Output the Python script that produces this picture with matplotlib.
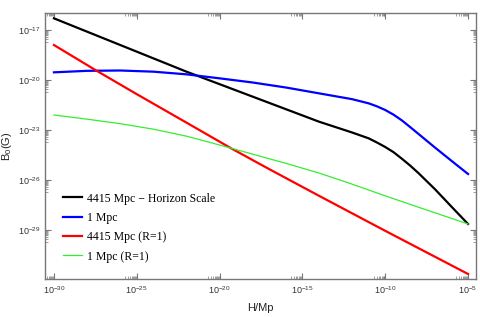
import numpy as np
import matplotlib
matplotlib.use("Agg")
import matplotlib.pyplot as plt
from matplotlib.ticker import FixedLocator, NullFormatter

plt.rcParams['mathtext.fontset'] = 'custom'
plt.rcParams['mathtext.rm'] = 'Liberation Sans'
plt.rcParams['mathtext.it'] = 'Liberation Sans:italic'
plt.rcParams['font.family'] = ['Liberation Sans', 'DejaVu Sans']

# log10 of Omega_H / Mp and log10 of B0 (G)
black_lx = [-30, -26, -22, -18, -16, -14, -12, -11, -10.5, -10, -9.5, -9, -8.5, -8, -7, -6, -5]
black_ly = [-16.3, -17.9, -19.5, -21.0, -21.75, -22.5, -23.15, -23.5, -23.75, -24.02,
            -24.33, -24.72, -25.13, -25.58, -26.55, -27.6, -28.64]

blue_lx = [-30, -28, -26, -24, -22, -20, -18, -16, -14, -12, -11, -10.5, -10, -9.5,
           -9, -8.5, -8, -7, -6, -5]
blue_ly = [-19.54, -19.45, -19.43, -19.5, -19.66, -19.9, -20.15, -20.45, -20.8, -21.15,
           -21.4, -21.58, -21.8, -22.08, -22.42, -22.82, -23.23, -24.05, -24.85, -25.64]

red_lx = [-30, -27.5, -25, -22.1, -19.3, -17, -13.9, -10, -5]
red_ly = [-17.9, -19.4, -20.85, -22.5, -24.1, -25.35, -27.0, -29.05, -31.64]

green_lx = [-30, -28, -26, -24, -22, -20, -18, -16, -14, -12, -10, -8, -5]
green_ly = [-22.1, -22.35, -22.62, -22.95, -23.37, -23.9, -24.45, -25.0, -25.58,
            -26.25, -26.95, -27.63, -28.64]

labels = ["4415 Mpc \u2212 Horizon Scale", "1 Mpc", "4415 Mpc (R=1)", "1 Mpc (R=1)"]
colors = ["#000000", "#0000ff", "#ff0000", "#33ee33"]
widths = [1.6, 1.6, 1.6, 0.9]

x_major = [-30, -25, -20, -15, -10, -5]
y_major = [-17, -20, -23, -26, -29]

fig = plt.figure(figsize=(4.8, 3.17), dpi=100)
ax = fig.add_axes([45/480, 1-279/317, (476-45)/480, (279-13)/317])

series = [(black_lx, black_ly), (blue_lx, blue_ly), (red_lx, red_ly), (green_lx, green_ly)]
for (lx, ly), lab, c, w in zip(series, labels, colors, widths):
    ax.plot(10.0**np.array(lx), 10.0**np.array(ly), color=c, lw=w, label=lab,
            solid_joinstyle='round')

ax.set_xscale('log')
ax.set_yscale('log')
ax.set_xlim(10**-30.54, 10**-4.52)
ax.set_ylim(10**-31.94, 10**-15.98)

ax.xaxis.set_major_locator(FixedLocator([10.0**e for e in x_major]))
ax.yaxis.set_major_locator(FixedLocator([10.0**e for e in y_major]))
ax.set_xticklabels([r'$10^{%d}$' % e for e in x_major])
ax.set_yticklabels([r'$10^{%d}$' % e for e in y_major])
ax.xaxis.set_minor_locator(FixedLocator([k*10.0**(e-1) for e in x_major for k in range(2, 10)]))
ax.yaxis.set_minor_locator(FixedLocator([k*10.0**(e-1) for e in y_major for k in range(2, 10)]))
ax.xaxis.set_minor_formatter(NullFormatter())
ax.yaxis.set_minor_formatter(NullFormatter())

frame_c = '#777777'
for s in ax.spines.values():
    s.set_color(frame_c)
    s.set_linewidth(1.0)
ax.tick_params(which='both', direction='in', top=True, right=True, color=frame_c,
               labelsize=6.5, labelcolor='#333333')
ax.tick_params(which='major', length=4, width=0.8)
ax.tick_params(which='minor', length=2, width=0.5)

ax.set_xlabel('H/Mp', fontsize=8, color='#222222', labelpad=5)
ax.set_ylabel(r'B$_0$(G)', fontsize=8, color='#222222')
ax.yaxis.set_label_coords(-0.072, 0.5)

leg = ax.legend(loc='lower left', bbox_to_anchor=(0.042, 0.062), frameon=False,
                borderpad=0, borderaxespad=0,
                prop={'family': 'Liberation Serif', 'size': 8.5},
                handlelength=1.6, handletextpad=0.45, labelspacing=0.62)

fig.savefig('out.png', dpi=100)
